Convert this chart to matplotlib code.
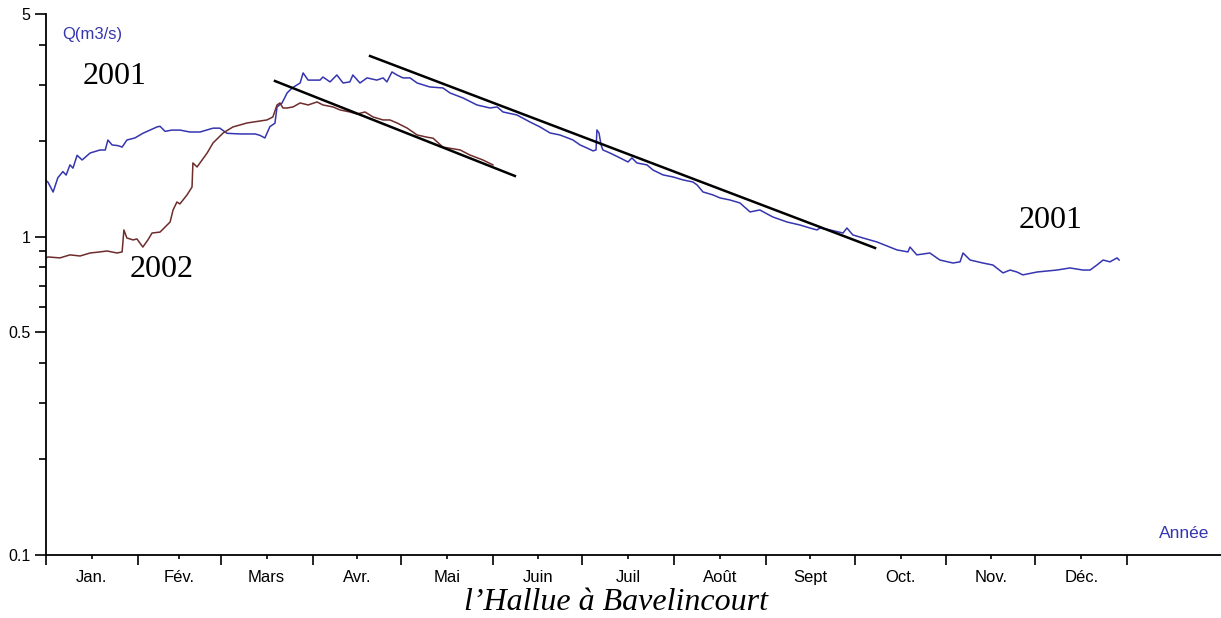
#!/usr/bin/env python

import matplotlib
matplotlib.use('Agg')
import matplotlib.pyplot as plt
from matplotlib.ticker import FixedLocator, FixedFormatter, NullFormatter

# Daily discharge, l'Hallue a Bavelincourt (day of year, m3/s)
days_2001 = [0, 0.7, 2.4, 4, 5.7, 6.8, 8.1, 9.1, 10.5, 12.2, 14.9, 18.2, 20, 20.9,
             22.3, 24.3, 25.7, 27.3, 30, 32.7, 35.1, 37.5, 38.5, 40.2, 42.5, 45.2,
             48.6, 52, 56.4, 58.7, 61.1, 65.5, 70.6, 72.2, 73.9, 75.6, 77.3, 78,
             79.7, 81.4, 83.1, 85.8, 86.8, 88.5, 92.5, 93.5, 95.9, 98.2, 100.3,
             102.6, 103.6, 106, 108.4, 111.7, 113.8, 115.1, 116.8, 118.5, 120.5,
             122.9, 125.3, 129.6, 134, 136.4, 140.8, 145.5, 149.9, 152.3, 154.3,
             159, 163.4, 166.8, 170.2, 173.5, 177.9, 180.3, 182.6, 184.7, 185.7,
             186, 186.7, 187.4, 188, 190.4, 193.8, 196.5, 197.8, 199.5, 202.9,
             204.9, 208.3, 211.7, 215, 218.4, 219.8, 221.8, 225.2, 227.6, 230.9,
             234.3, 237.7, 241, 245.4, 250.2, 254.6, 257.9, 260.3, 261.3, 264.7,
             269.1, 270.4, 272.4, 275.8, 280.5, 287.3, 291, 291.7, 294, 298.4,
             301.8, 306.2, 308.6, 309.6, 312, 316.3, 319.7, 323.1, 325.5, 327.8,
             329.8, 334.6, 341.3, 345.7, 350.1, 352.5, 354.8, 356.9, 359.2, 361.6,
             362.3]
q_2001 = [1.50, 1.48, 1.38, 1.53, 1.60, 1.56, 1.68, 1.64, 1.80, 1.74, 1.83, 1.87,
          1.87, 2.01, 1.94, 1.93, 1.91, 2.01, 2.04, 2.11, 2.16, 2.21, 2.22, 2.14,
          2.16, 2.16, 2.13, 2.13, 2.19, 2.19, 2.11, 2.10, 2.10, 2.08, 2.04, 2.215,
          2.27, 2.553, 2.628, 2.825, 2.929, 3.036, 3.265, 3.10, 3.10, 3.17, 3.06,
          3.217, 3.036, 3.06, 3.217, 3.036, 3.15, 3.10, 3.15, 3.06, 3.288, 3.217,
          3.15, 3.15, 3.036, 2.95, 2.929, 2.825, 2.724, 2.59, 2.534, 2.553, 2.462,
          2.409, 2.29, 2.209, 2.115, 2.085, 2.011, 1.94, 1.898, 1.858, 1.871,
          2.162, 2.115, 1.94, 1.871, 1.83, 1.766, 1.715, 1.766, 1.703, 1.679,
          1.619, 1.562, 1.539, 1.507, 1.484, 1.453, 1.381, 1.351, 1.322, 1.303,
          1.275, 1.195, 1.212, 1.152, 1.111, 1.087, 1.064, 1.049, 1.064, 1.049,
          1.026, 1.064, 1.012, 0.990, 0.962, 0.908, 0.895, 0.927, 0.876, 0.888,
          0.844, 0.826, 0.833, 0.888, 0.844, 0.826, 0.814, 0.769, 0.785, 0.774,
          0.758, 0.774, 0.785, 0.797, 0.785, 0.785, 0.814, 0.844, 0.833, 0.857,
          0.844]

days_2002 = [0, 0.7, 4.7, 8.1, 11.5, 14.9, 18.2, 20.6, 24, 25.7, 26.3, 27.3, 29.4,
             30.7, 32.7, 34.4, 35.8, 38.5, 41.9, 42.9, 44.2, 45.2, 47.6, 49.3,
             49.6, 51, 54.4, 56.4, 59.8, 63.1, 67.9, 74.6, 76.6, 78, 79, 80, 81.4,
             83.4, 85.8, 88.5, 91.5, 93.5, 96.9, 99.3, 102.6, 105, 107.7, 110.4,
             113.8, 116.1, 118.5, 121.9, 125.3, 128.6, 130.7, 134, 139.8, 143.1,
             147.5, 150.9]
q_2002 = [0.857, 0.863, 0.857, 0.876, 0.869, 0.888, 0.895, 0.901, 0.888, 0.895,
          1.049, 0.99, 0.976, 0.983, 0.927, 0.976, 1.026, 1.033, 1.111, 1.212,
          1.284, 1.266, 1.351, 1.431, 1.703, 1.654, 1.83, 1.968, 2.115, 2.209,
          2.274, 2.324, 2.375, 2.59, 2.628, 2.534, 2.534, 2.553, 2.628, 2.59,
          2.647, 2.59, 2.553, 2.498, 2.462, 2.426, 2.462, 2.375, 2.324, 2.324,
          2.274, 2.192, 2.085, 2.052, 2.036, 1.91, 1.871, 1.804, 1.74, 1.679]

# Hand drawn recession lines (start/end day, start/end discharge)
trend_2002_days = [77.3, 158.3]
trend_2002_q = [3.08, 1.55]
trend_2001_days = [109.4, 279.9]
trend_2001_q = [3.69, 0.921]

# Axis ticks
month_starts = [0, 31, 59, 90, 120, 151, 181, 212, 243, 273, 304, 334, 365]
month_labels = ['Jan.', 'Fév.', 'Mars', 'Avr.', 'Mai', 'Juin', 'Juil', 'Août',
                'Sept', 'Oct.', 'Nov.', 'Déc.']
y_major = [0.1, 0.5, 1, 5]
y_major_labels = ['0.1', '0.5', '1', '5']
y_minor = [0.2, 0.3, 0.4, 0.6, 0.7, 0.8, 0.9, 2, 3, 4]

BLUE = '#3535b0'
BROWN = '#6e2c2c'
W, H = 1221, 618


def main() -> None:
    fig = plt.figure(figsize=(W / 100, H / 100), dpi=100)
    ax = fig.add_axes([46 / W, 63 / H, (W - 46) / W, (555 - 14) / H])

    ax.plot(days_2001, q_2001, color=BLUE, lw=1.1)
    ax.plot(days_2002, q_2002, color=BROWN, lw=1.1)
    ax.plot(trend_2002_days, trend_2002_q, color='black', lw=1.8)
    ax.plot(trend_2001_days, trend_2001_q, color='black', lw=1.8)

    ax.set_yscale('log')
    ax.set_ylim(0.1, 5)
    ax.set_xlim(0, 396.7)

    for s in ['top', 'right']:
        ax.spines[s].set_visible(False)
    for s in ['left', 'bottom']:
        ax.spines[s].set_linewidth(1.3)

    # y ticks
    ax.yaxis.set_major_locator(FixedLocator(y_major))
    ax.yaxis.set_major_formatter(FixedFormatter(y_major_labels))
    ax.yaxis.set_minor_locator(FixedLocator(y_minor))
    ax.yaxis.set_minor_formatter(NullFormatter())
    ax.tick_params(axis='y', which='major', length=8, width=1.2, pad=3,
                   labelsize=11.5)
    ax.tick_params(axis='y', which='minor', length=5, width=1.2)

    # x ticks: boundaries as major, month names at mid-month
    mids = [(a + b) / 2 for a, b in zip(month_starts[:-1], month_starts[1:])]
    ax.xaxis.set_major_locator(FixedLocator(month_starts))
    ax.xaxis.set_major_formatter(NullFormatter())
    ax.xaxis.set_minor_locator(FixedLocator(mids))
    ax.xaxis.set_minor_formatter(FixedFormatter(month_labels))
    ax.tick_params(axis='x', which='major', length=7, width=1.2)
    ax.tick_params(axis='x', which='minor', length=3, width=1.2, pad=8,
                   labelsize=12)

    for lbl in ax.get_xticklabels(minor=True) + ax.get_yticklabels():
        lbl.set_fontfamily('Liberation Sans')

    # Axis captions
    fig.text(62 / W, 1 - 34 / H, 'Q(m3/s)', color=BLUE, fontsize=12,
             family='Liberation Sans', va='center')
    fig.text(1209 / W, 1 - 534 / H, 'Année', color=BLUE, fontsize=12.5,
             family='Liberation Sans', va='center', ha='right')

    # Year annotations
    font = dict(family='Liberation Serif', fontsize=23, ha='center', va='center')
    ax.text(23, 3.19, '2001', **font)
    ax.text(39.2, 0.79, '2002', **font)
    ax.text(339, 1.12, '2001', **font)

    fig.text(616 / W, 1 - 602 / H, 'l\u2019Hallue à Bavelincourt',
             family='Liberation Serif', style='italic', fontsize=23,
             ha='center', va='center')

    plt.savefig('out.png', dpi=100)


if __name__ == '__main__':
    main()
